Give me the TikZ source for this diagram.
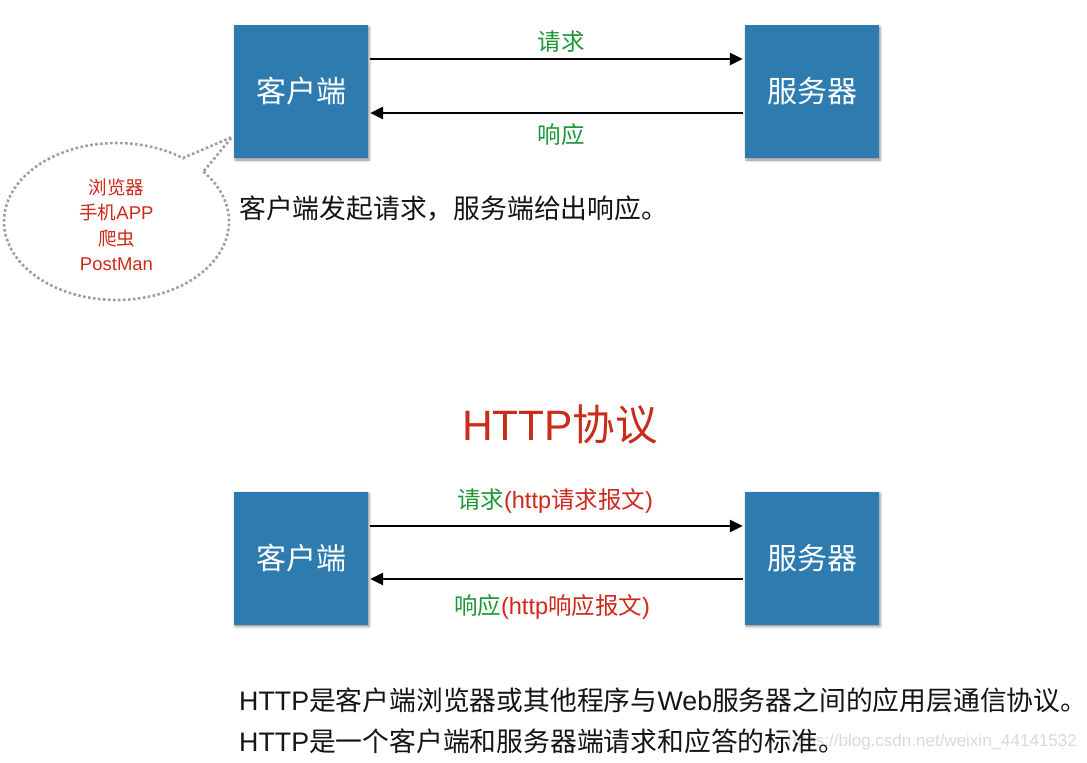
\documentclass[tikz,border=0pt]{standalone}
\usepackage{fontspec}
\setmainfont{Liberation Sans}
\newfontfamily\cjk{Noto Sans CJK SC}
\usetikzlibrary{arrows.meta,shadows.blur}
\definecolor{boxblue}{RGB}{46,123,176}
\definecolor{lblgreen}{RGB}{30,150,55}
\definecolor{lblred}{RGB}{205,40,25}
\definecolor{titlered}{RGB}{200,45,25}
\definecolor{txt}{RGB}{20,20,20}
\newcommand\fsz[2]{\fontsize{#1}{#2}\selectfont}
\tikzset{
  party/.style={draw=none, fill=boxblue, minimum width=134pt, minimum height=133pt,
    inner sep=0pt, text=white, font=\fsz{30}{36}\cjk,
    blur shadow={shadow xshift=1.2pt, shadow yshift=-2pt, shadow blur radius=2.5pt, shadow opacity=45}},
  arr/.style={line width=2.6pt, -{Triangle[length=13pt,width=12pt]}},
  glabel/.style={text=lblgreen, font=\fsz{23.5}{28}, inner sep=0pt},
  bubble/.style={draw=gray!75, line width=2.6pt, dash pattern=on 2.6pt off 2.4pt},
  desc/.style={text=txt, font=\fsz{26.8}{30}, anchor=west, inner sep=0pt}
}
\begin{document}
\begin{tikzpicture}[x=1pt,y=-1pt]
\useasboundingbox (0,0) rectangle (1087,763);
% top diagram
\node[party] (c1) at (301,91.5) {客户端};
\node[party] (s1) at (812,91.5) {服务器};
\draw[arr, shorten <=2pt, shorten >=2pt] (c1.east |- 0,59) -- (s1.west |- 0,59);
\draw[arr, shorten <=2pt, shorten >=2pt] (s1.west |- 0,113) -- (c1.east |- 0,113);
\node[glabel] (req1) at (561,42) {\cjk 请求};
\node[glabel] (res1) at (561,135) {\cjk 响应};
% bubble
\coordinate (tip) at (232,137);
\draw[bubble] plot[domain=-39.4:306.2, samples=140] ({116.5+112.5*cos(\x)}, {221.5+78.5*sin(\x)}) -- (tip) -- cycle;
\node[text=lblred, font=\fsz{18.5}{25.4}\cjk, align=center, inner sep=0pt] (clients) at (116.5,225)
  {浏览器\\手机{\rmfamily APP}\\爬虫\\{\rmfamily PostMan}};
\node[desc] (d1) at (239,209) {\cjk 客户端发起请求，服务端给出响应。};
% title
\node[text=titlered, font=\fsz{42.5}{48}, inner sep=0pt] (title) at (560,424) {HTTP{\cjk 协议}};
% bottom diagram
\node[party] (c2) at (301,558) {客户端};
\node[party] (s2) at (812,558) {服务器};
\draw[arr, shorten <=2pt, shorten >=2pt] (c2.east |- 0,526) -- (s2.west |- 0,526);
\draw[arr, shorten <=2pt, shorten >=2pt] (s2.west |- 0,579) -- (c2.east |- 0,579);
\node[glabel] (req2) at (555,501) {{\cjk 请求}\textcolor{lblred}{(http{\cjk 请求报文})}};
\node[glabel] (res2) at (552,607) {{\cjk 响应}\textcolor{lblred}{(http{\cjk 响应报文})}};
% watermark
\node[text=gray!30, font=\fsz{17}{20}, anchor=east, inner sep=0pt] (wm) at (1077,742) {https://blog.csdn.net/weixin\_44141532};
% bottom text
\node[desc] (l1) at (239,700) {HTTP{\cjk 是客户端浏览器或其他程序与}Web{\cjk 服务器之间的应用层通信协议。}};
\node[desc] (l2) at (239,741) {HTTP{\cjk 是一个客户端和服务器端请求和应答的标准。}};
\end{tikzpicture}
\end{document}
